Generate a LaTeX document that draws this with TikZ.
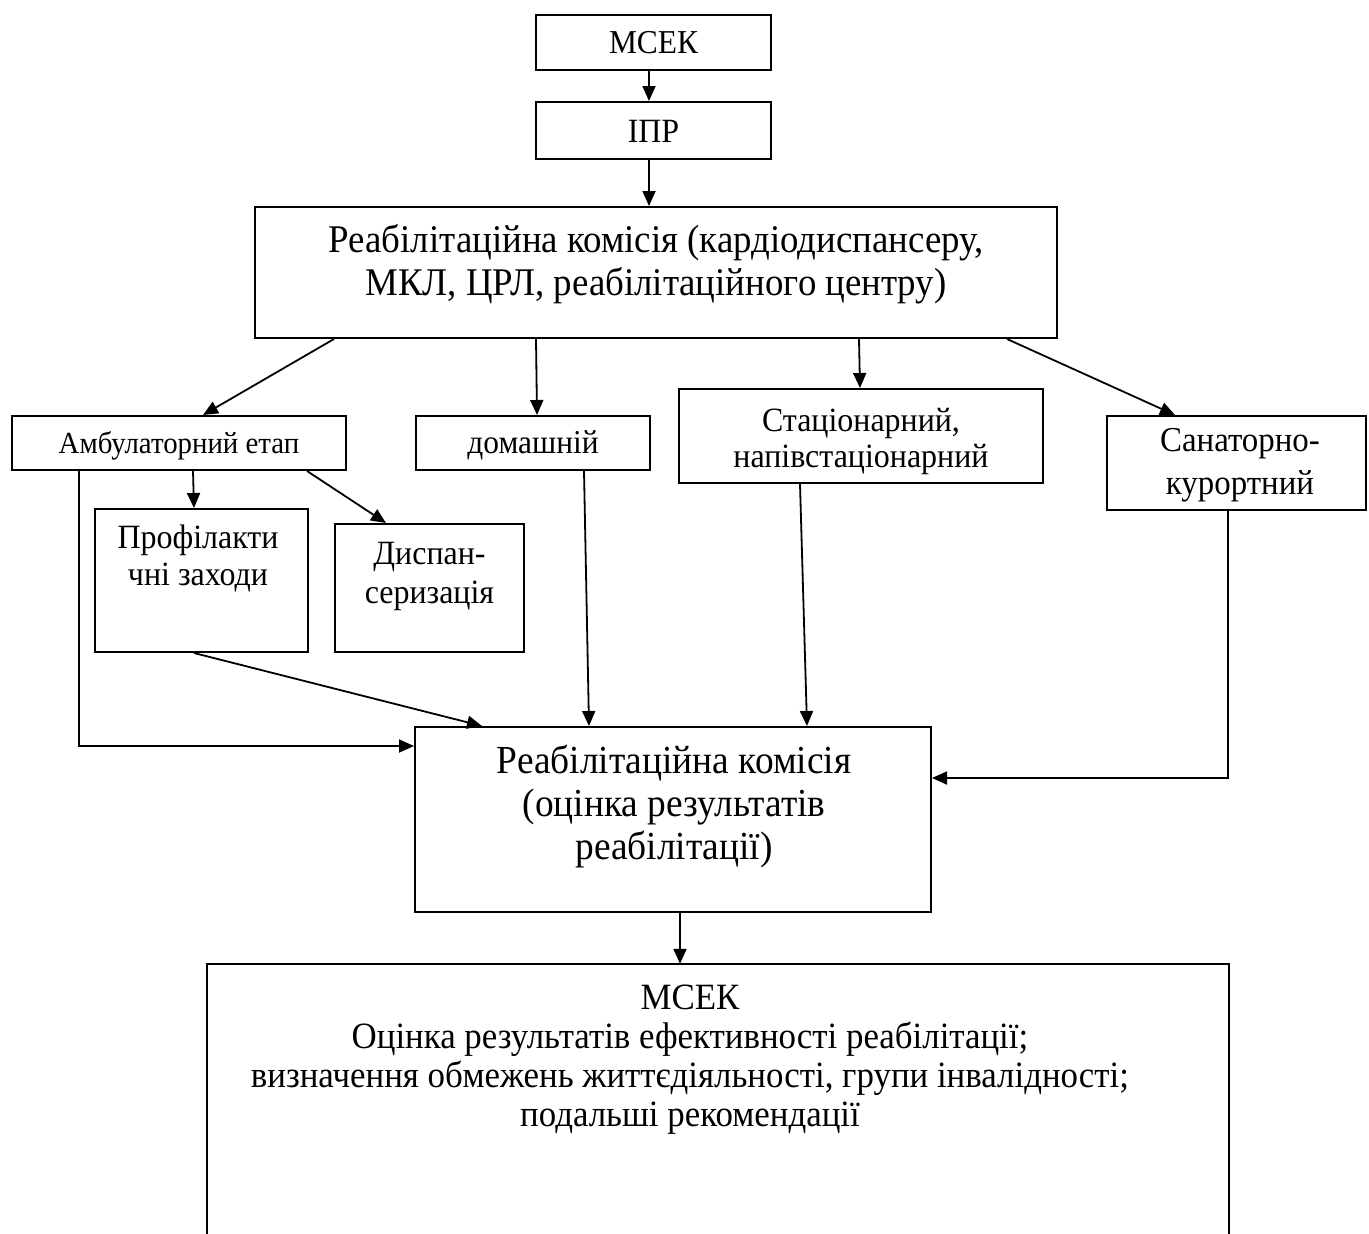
\documentclass[tikz,border=0pt]{standalone}
\usepackage{fontspec}
\setmainfont[FakeStretch=0.94]{Liberation Serif}
\usetikzlibrary{arrows.meta,calc}
\newcommand\fsz[2]{\fontsize{#1}{#2}\selectfont}
\begin{document}
\begin{tikzpicture}[x=1pt,y=-1pt,
  box/.style={draw,line width=2pt,inner sep=0pt},
  txt/.style={align=center,inner sep=0pt},
  arr/.style={-{Triangle[length=15pt,width=13pt]},line width=1.8pt},
  ln/.style={line width=1.8pt}]
\useasboundingbox (0,0) rectangle (1369,1234);
% boxes
\node[box,minimum width=235pt,minimum height=55pt] (m1) at (653.5,42.5) {};
\node[box,minimum width=235pt,minimum height=57pt] (ipr) at (653.5,130.5) {};
\node[box,minimum width=802pt,minimum height=131pt] (rk1) at (656,272.5) {};
\node[box,minimum width=334pt,minimum height=54pt] (amb) at (179,443) {};
\node[box,minimum width=234pt,minimum height=54pt] (dom) at (533,443) {};
\node[box,minimum width=364pt,minimum height=94pt] (stac) at (861,436) {};
\node[box,minimum width=259pt,minimum height=94pt] (san) at (1236.5,463) {};
\node[box,minimum width=213pt,minimum height=143pt] (prof) at (201.5,580.5) {};
\node[box,minimum width=189pt,minimum height=128pt] (disp) at (429.5,588) {};
\node[box,minimum width=516pt,minimum height=185pt] (rk2) at (673,819.5) {};
\node[inner sep=0pt,minimum width=1022pt,minimum height=270pt] (ms2) at (718,1099) {};
\draw[line width=2pt] (ms2.south west) -- (ms2.north west) -- (ms2.north east) -- (ms2.south east);
% texts
\node[txt,font=\fsz{33.4}{36}] (t1) at (653.5,43) {МСЕК};
\node[txt,font=\fsz{34}{36}] (t2) at (653.5,131) {ІПР};
\node[txt,font=\fsz{39.2}{43}] (t3) at (656,264) {Реабілітаційна комісія (кардіодиспансеру,\\МКЛ, ЦРЛ, реабілітаційного центру)};
\node[txt,font=\fsz{30.7}{34}] (t4) at (179,446) {Амбулаторний етап};
\node[txt,font=\fsz{33.4}{36}] (t5) at (533,445) {домашній};
\node[txt,font=\fsz{34}{36}] (t6) at (861,441) {Стаціонарний,\\напівстаціонарний};
\node[txt,font=\fsz{35}{43}] (t7) at (1240,465) {Санаторно-\\курортний};
\node[txt,font=\fsz{34}{37}] (t8) at (198,558) {Профілакти\\чні заходи};
\node[txt,font=\fsz{34}{39}] (t9) at (429.5,576) {Диспан-\\серизація};
\node[txt,font=\fsz{39.75}{43}] (t10) at (674,806) {Реабілітаційна комісія\\(оцінка результатів\\реабілітації)};
\node[txt,font=\fsz{37.1}{39}] (t11) at (690,1060) {МСЕК\\Оцінка результатів ефективності реабілітації;\\визначення обмежень життєдіяльності, групи інвалідності;\\подальші рекомендації};
% connectors
\draw[arr] ([xshift=-4.5pt]m1.south) -- ([xshift=-4.5pt]ipr.north);
\draw[arr] ([xshift=-4.5pt]ipr.south) -- ([xshift=-7pt]rk1.north);
\draw[arr] ([xshift=80pt]rk1.south west) -- ([xshift=24pt]amb.north);
\draw[arr] ([xshift=282pt]rk1.south west) -- ([xshift=4pt]dom.north);
\draw[arr] ([xshift=605pt]rk1.south west) -- ([xshift=-1pt]stac.north);
\draw[arr] ([xshift=753pt]rk1.south west) -- ([xshift=69pt]san.north west);
\draw[arr] ([xshift=182pt]amb.south west) -- ([xshift=-7.5pt]prof.north);
\draw[arr] ([xshift=296pt]amb.south west) -- ([xshift=52pt]disp.north west);
\draw[arr] ([xshift=68pt]amb.south west) |- ([yshift=-20pt]rk2.north west);
\draw[arr] ([xshift=-7.5pt]prof.south) -- ([xshift=68pt]rk2.north west);
\draw[arr] ([xshift=169pt]dom.south west) -- ([xshift=175pt]rk2.north west);
\draw[arr] ([xshift=122pt]stac.south west) -- ([xshift=393pt]rk2.north west);
\draw[arr] ([xshift=122pt]san.south west) |- ([yshift=-52pt]rk2.north east);
\draw[arr] ([xshift=7pt]rk2.south) -- ([xshift=-38pt]ms2.north);
\end{tikzpicture}
\end{document}
